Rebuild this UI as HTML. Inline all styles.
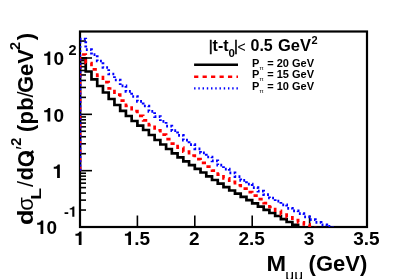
<!DOCTYPE html>
<html><head><meta charset="utf-8"><title>plot</title>
<style>
html,body{margin:0;padding:0;background:#fff;}
body{width:399px;height:279px;overflow:hidden;}
svg{display:block;}
text{font-family:"Liberation Sans",sans-serif;font-weight:bold;fill:#000;}
.n{font-weight:normal;}
</style></head><body>
<svg width="399" height="279" viewBox="0 0 399 279">
<rect width="399" height="279" fill="#fff"/>
<!-- frame -->
<rect x="80.0" y="31.5" width="287.0" height="195.5" fill="none" stroke="#000" stroke-width="2.2"/>
<g stroke="#000" stroke-width="1.6">
<line x1="80.00" y1="227.00" x2="92.00" y2="227.00"/>
<line x1="80.00" y1="210.04" x2="86.00" y2="210.04"/>
<line x1="80.00" y1="200.12" x2="86.00" y2="200.12"/>
<line x1="80.00" y1="193.08" x2="86.00" y2="193.08"/>
<line x1="80.00" y1="187.62" x2="86.00" y2="187.62"/>
<line x1="80.00" y1="183.16" x2="86.00" y2="183.16"/>
<line x1="80.00" y1="179.39" x2="86.00" y2="179.39"/>
<line x1="80.00" y1="176.13" x2="86.00" y2="176.13"/>
<line x1="80.00" y1="173.24" x2="86.00" y2="173.24"/>
<line x1="80.00" y1="170.67" x2="92.00" y2="170.67"/>
<line x1="80.00" y1="153.71" x2="86.00" y2="153.71"/>
<line x1="80.00" y1="143.79" x2="86.00" y2="143.79"/>
<line x1="80.00" y1="136.75" x2="86.00" y2="136.75"/>
<line x1="80.00" y1="131.29" x2="86.00" y2="131.29"/>
<line x1="80.00" y1="126.83" x2="86.00" y2="126.83"/>
<line x1="80.00" y1="123.06" x2="86.00" y2="123.06"/>
<line x1="80.00" y1="119.79" x2="86.00" y2="119.79"/>
<line x1="80.00" y1="116.91" x2="86.00" y2="116.91"/>
<line x1="80.00" y1="114.33" x2="92.00" y2="114.33"/>
<line x1="80.00" y1="97.38" x2="86.00" y2="97.38"/>
<line x1="80.00" y1="87.46" x2="86.00" y2="87.46"/>
<line x1="80.00" y1="80.42" x2="86.00" y2="80.42"/>
<line x1="80.00" y1="74.96" x2="86.00" y2="74.96"/>
<line x1="80.00" y1="70.50" x2="86.00" y2="70.50"/>
<line x1="80.00" y1="66.73" x2="86.00" y2="66.73"/>
<line x1="80.00" y1="63.46" x2="86.00" y2="63.46"/>
<line x1="80.00" y1="60.58" x2="86.00" y2="60.58"/>
<line x1="80.00" y1="58.00" x2="92.00" y2="58.00"/>
<line x1="80.00" y1="41.04" x2="86.00" y2="41.04"/>
<line x1="80.00" y1="227.00" x2="80.00" y2="215.50"/>
<line x1="137.40" y1="227.00" x2="137.40" y2="215.50"/>
<line x1="194.80" y1="227.00" x2="194.80" y2="215.50"/>
<line x1="252.20" y1="227.00" x2="252.20" y2="215.50"/>
<line x1="309.60" y1="227.00" x2="309.60" y2="215.50"/>
<line x1="367.00" y1="227.00" x2="367.00" y2="215.50"/>
</g>
<clipPath id="cp"><rect x="80.0" y="31.5" width="287.0" height="195.5"/></clipPath>
<!-- curves -->
<g clip-path="url(#cp)" fill="none" stroke-width="2.7">
<path d="M80.00 170.67 V58.30 H85.74 V71.50 H91.48 V79.30 H97.22 V86.00 H102.96 V92.50 H108.70 V99.00 H114.44 V105.00 H120.18 V110.80 H125.92 V116.00 H131.66 V121.00 H137.40 V125.60 H143.14 V130.00 H148.88 V135.00 H154.62 V140.00 H160.36 V144.50 H166.10 V149.00 H171.84 V153.30 H177.58 V157.30 H183.32 V161.40 H189.06 V165.20 H194.80 V168.80 H200.54 V172.50 H206.28 V176.30 H212.02 V180.00 H217.76 V183.70 H223.50 V187.10 H229.24 V190.50 H234.98 V193.60 H240.72 V196.80 H246.46 V200.10 H252.20 V203.30 H257.94 V206.60 H263.68 V209.80 H269.42 V213.00 H275.16 V216.00 H280.90 V219.10 H286.64 V222.00 H292.38 V224.90 H298.12 V230.00" stroke="#000"/>
<path d="M80.00 170.67 V54.50 H85.74 V63.00 H91.48 V69.30 H97.22 V75.83 H102.96 V82.17 H108.70 V88.50 H114.44 V94.66 H120.18 V100.62 H125.92 V105.98 H131.66 V111.14 H137.40 V115.90 H143.14 V120.28 H148.88 V125.26 H154.62 V130.24 H160.36 V134.72 H166.10 V139.20 H171.84 V143.53 H177.58 V147.56 H183.32 V151.69 H189.06 V155.51 H194.80 V159.14 H200.54 V162.87 H206.28 V166.70 H212.02 V170.67 H217.76 V174.63 H223.50 V178.30 H229.24 V181.93 H234.98 V185.27 H240.72 V188.70 H246.46 V192.20 H252.20 V195.60 H257.94 V199.10 H263.68 V203.05 H269.42 V207.00 H275.16 V210.75 H280.90 V214.60 H286.64 V217.25 H292.38 V220.20 H298.12 V222.30 H303.86 V224.40 H309.60 V226.70 H315.34 V230.00" stroke="#f00" stroke-dasharray="4.2235 4.2235" stroke-dashoffset="0"/>
<path d="M80.00 170.67 V39.00 H85.74 V49.70 H91.48 V54.70 H97.22 V61.00 H102.96 V67.50 H108.70 V74.00 H114.44 V80.00 H120.18 V85.97 H125.92 V91.33 H131.66 V96.50 H137.40 V101.35 H143.14 V106.00 H148.88 V111.28 H154.62 V116.56 H160.36 V121.34 H166.10 V126.12 H171.84 V130.70 H177.58 V135.35 H183.32 V140.10 H189.06 V144.55 H194.80 V148.80 H200.54 V152.85 H206.28 V157.00 H212.02 V160.90 H217.76 V165.12 H223.50 V169.03 H229.24 V172.95 H234.98 V176.57 H240.72 V180.28 H246.46 V184.10 H252.20 V187.60 H257.94 V191.20 H263.68 V194.60 H269.42 V198.00 H275.16 V201.20 H280.90 V204.80 H286.64 V208.30 H292.38 V210.90 H298.12 V213.60 H303.86 V216.80 H309.60 V219.60 H315.34 V222.40 H321.08 V224.80 H326.82 V226.40 H332.56 V230.00" stroke="#00f" stroke-dasharray="1.9 2.335" stroke-dashoffset="0"/>
</g>
<g style="will-change:transform">
<!-- x labels -->
<path d="M78.77 245.00 L78.77 235.69 L75.43 235.69 L75.43 233.87 C77.41 233.87 79.08 233.22 79.51 231.53 L81.53 231.53 L81.53 245.00 Z" fill="#000"/>
<path d="M128.25 245.00 L128.25 235.69 L124.91 235.69 L124.91 233.87 C126.88 233.87 128.55 233.22 128.99 231.53 L131.01 231.53 L131.01 245.00 Z" fill="#000"/>
<text x="134.16" y="245.00" font-size="19">.5</text>
<text x="188.92" y="245.00" font-size="19">2</text>
<text x="238.39" y="245.00" font-size="19">2.5</text>
<text x="303.72" y="245.00" font-size="19">3</text>
<text x="353.19" y="245.00" font-size="19">3.5</text>
<!-- y labels -->
<path d="M47.53 65.00 L47.53 55.69 L44.18 55.69 L44.18 53.87 C46.16 53.87 47.83 53.22 48.27 51.53 L50.28 51.53 L50.28 65.00 Z" fill="#000"/>
<text x="53.44" y="65.00" font-size="19">0</text>
<text x="68.5" y="54.7" font-size="14.5">2</text>
<path d="M47.53 121.50 L47.53 112.19 L44.18 112.19 L44.18 110.37 C46.16 110.37 47.83 109.72 48.27 108.03 L50.28 108.03 L50.28 121.50 Z" fill="#000"/>
<text x="53.44" y="121.50" font-size="19">0</text>
<path d="M57.09 178.00 L57.09 168.69 L53.75 168.69 L53.75 166.87 C55.72 166.87 57.39 166.22 57.83 164.53 L59.85 164.53 L59.85 178.00 Z" fill="#000"/>
<path d="M40.53 234.00 L40.53 224.69 L37.18 224.69 L37.18 222.87 C39.16 222.87 40.83 222.22 41.27 220.53 L43.28 220.53 L43.28 234.00 Z" fill="#000"/>
<text x="46.44" y="234.00" font-size="19">0</text>
<text x="63.90" y="216.70" font-size="14.5">-</text>
<path d="M72.28 216.70 L72.28 209.59 L69.73 209.59 L69.73 208.20 C71.24 208.20 72.51 207.71 72.85 206.42 L74.38 206.42 L74.38 216.70 Z" fill="#000"/>
<!-- x title -->
<g transform="translate(266.4,270.9) scale(1.06,1)"><text x="0" y="0" font-size="22.2">M</text></g>
<text x="285.3" y="279.6" font-size="15.5" class="n" fill="#222">μμ</text>
<text x="308.6" y="271" font-size="22">(GeV)</text>
<!-- y title -->
<g transform="translate(33,225) rotate(-90)">
<g transform="translate(0,0) scale(1.15,1)"><text x="0" y="0" font-size="22">d</text></g>
<text x="14.3" y="0" font-size="22" class="n">σ</text>
<g transform="translate(25.3,8.3) scale(1.3,1)"><text x="0" y="0" font-size="15">L</text></g>
<text x="37.9" y="0" font-size="22" class="n">/</text>
<text x="44.4" y="0" font-size="22">dQ</text>
<rect x="60" y="1.0" width="16" height="6" fill="#fff"/>
<path d="M67.6 -5.6 L70 -6.6 L75 -0.2 L72.4 0.9 Z" fill="#000"/>
<text x="75.2" y="-3" font-size="20" class="n">′</text>
<text x="79.2" y="-11.7" font-size="14.5">2</text>
<text x="93" y="0" font-size="22" letter-spacing="0.2">(pb</text>
<text x="127.6" y="0" font-size="22" class="n">/</text>
<text x="132" y="0" font-size="22">GeV</text>
<text x="175.1" y="-13.2" font-size="14.5">2</text>
<text x="184.7" y="0" font-size="22">)</text>
</g>
<!-- title -->
<text x="208.7" y="51.0" font-size="15" class="n" stroke="#000" stroke-width="0.5">|</text>
<text x="212.6" y="51.2" font-size="16">t-t</text>
<text x="228.5" y="57" font-size="11.5">0</text>
<text x="233.9" y="51.0" font-size="15" class="n" stroke="#000" stroke-width="0.5">|</text>
<text x="237.4" y="52.4" font-size="14" class="n">&lt;</text>
<text x="250.5" y="51.2" font-size="16">0.5</text>
<text x="277.9" y="51.2" font-size="16.5">GeV</text>
<text x="311.4" y="43.9" font-size="11">2</text>
<!-- legend -->
<line x1="194.1" y1="64.8" x2="238" y2="64.8" stroke="#000" stroke-width="2.4"/>
<line x1="194.1" y1="76.8" x2="238" y2="76.8" stroke="#f00" stroke-width="2.4" stroke-dasharray="4.235 4.235"/>
<line x1="194.1" y1="88.4" x2="238" y2="88.4" stroke="#00f" stroke-width="2.4" stroke-dasharray="1.41 2.825"/>
<text x="252" y="67" font-size="11">P<tspan class="n" font-size="6" dy="3.1" dx="0.2">π</tspan><tspan dy="-3.1" dx="0.5"> = 20 GeV</tspan></text>
<text x="252" y="78.3" font-size="11">P<tspan class="n" font-size="6" dy="3.1" dx="0.2">π</tspan><tspan dy="-3.1" dx="0.5"> = 15 GeV</tspan></text>
<text x="252" y="89.6" font-size="11">P<tspan class="n" font-size="6" dy="3.1" dx="0.2">π</tspan><tspan dy="-3.1" dx="0.5"> = 10 GeV</tspan></text>
</g>
</svg>
</body></html>
